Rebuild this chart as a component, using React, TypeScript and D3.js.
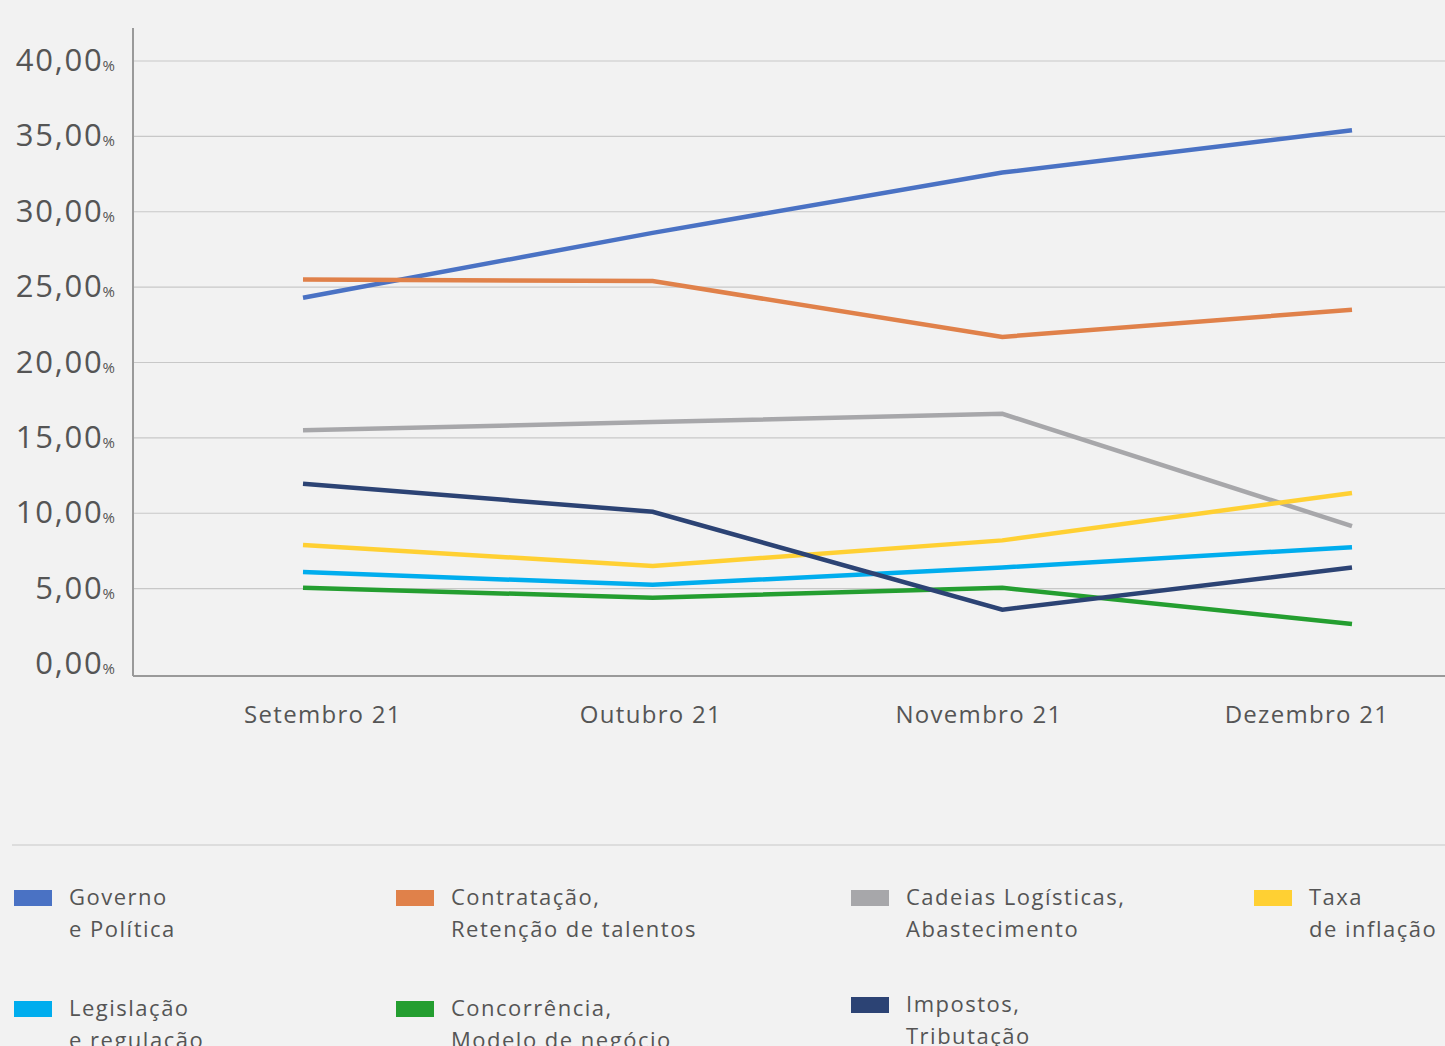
import React from "react";
import * as d3 from "d3";

const months = ["Setembro 21", "Outubro 21", "Novembro 21", "Dezembro 21"];
const yTicks = [0, 5, 10, 15, 20, 25, 30, 35, 40];

const governo = [24.3, 28.6, 32.6, 35.4];
const contratacao = [25.5, 25.4, 21.7, 23.5];
const cadeias = [15.5, 16.05, 16.6, 9.15];
const taxa = [7.9, 6.5, 8.2, 11.35];
const legislacao = [6.1, 5.25, 6.4, 7.75];
const concorrencia = [5.05, 4.4, 5.05, 2.65];
const impostos = [11.95, 10.1, 3.6, 6.4];

const seriesNames = [
  ["Governo", "e Política"],
  ["Contratação,", "Retenção de talentos"],
  ["Cadeias Logísticas,", "Abastecimento"],
  ["Taxa", "de inflação"],
  ["Legislação", "e regulação"],
  ["Concorrência,", "Modelo de negócio"],
  ["Impostos,", "Tributação"],
];
const seriesValues = [governo, contratacao, cadeias, taxa, legislacao, concorrencia, impostos];
const seriesColors = ["#4A72C4", "#E0814A", "#A7A7AA", "#FFD033", "#00ADEE", "#249E30", "#2C4374"];

const W = 1445;
const H = 1046;
const FONT = "'Open Sans', sans-serif";

export default function App() {
  const y = d3.scaleLinear().domain([0, 40]).range([664, 61]);
  const x = d3.scalePoint<string>().domain(months).range([303, 1352]);
  const xLabel = d3.scalePoint<string>().domain(months).range([323, 1307]);
  const line = d3
    .line<number>()
    .x((_, i) => x(months[i]) as number)
    .y((d) => y(d));

  const legendCols = [14, 396, 851, 1254];
  const legendRows = [898, 1009];
  const fmt = (v: number) => d3.format(".2f")(v).replace(".", ",");

  return (
    <div style={{ position: "absolute", left: 0, top: 0, width: W, height: H, background: "#F2F2F2" }}>
      <svg width={W} height={H} style={{ display: "block" }} fontFamily={FONT}>
        <rect x={0} y={0} width={W} height={H} fill="#F2F2F2" />
        {yTicks
          .filter((t) => t > 0)
          .map((t) => (
            <line key={t} x1={133} x2={W} y1={y(t)} y2={y(t)} stroke="#C8C8C8" strokeWidth={1.2} />
          ))}
        <line x1={133} x2={133} y1={28} y2={676} stroke="#9A9A9A" strokeWidth={2} />
        <line x1={133} x2={W} y1={676} y2={676} stroke="#9A9A9A" strokeWidth={2} />
        {yTicks.map((t) => (
          <text key={t} x={115} y={y(t) + 10} textAnchor="end" fontSize={31} fill="#555" letterSpacing={1.8}>
            {fmt(t)}
            <tspan fontSize={15} dx={-1} letterSpacing={0}>%</tspan>
          </text>
        ))}
        {months.map((m) => (
          <text key={m} x={xLabel(m)} y={723} textAnchor="middle" fontSize={24} fill="#555" fontWeight={500} letterSpacing={1.3}>
            {m}
          </text>
        ))}
        {seriesValues.map((vals, i) => (
          <path key={i} d={line(vals) || ""} fill="none" stroke={seriesColors[i]} strokeWidth={4.5} strokeLinejoin="miter" />
        ))}
        <line x1={12} x2={W} y1={845} y2={845} stroke="#C8C8C8" strokeWidth={1.2} />
        {seriesNames.map((names, i) => {
          const col = legendCols[i % 4];
          const row = legendRows[Math.floor(i / 4)] - (i === 6 ? 4 : 0);
          return (
            <g key={i}>
              <rect x={col} y={row - 8} width={38} height={16} fill={seriesColors[i]} />
              <text x={col + 55} y={row + 7} fontSize={22} fill="#555" letterSpacing={1.5}>
                {names[0]}
              </text>
              <text x={col + 55} y={row + 39} fontSize={22} fill="#555" letterSpacing={1.5}>
                {names[1]}
              </text>
            </g>
          );
        })}
      </svg>
    </div>
  );
}
